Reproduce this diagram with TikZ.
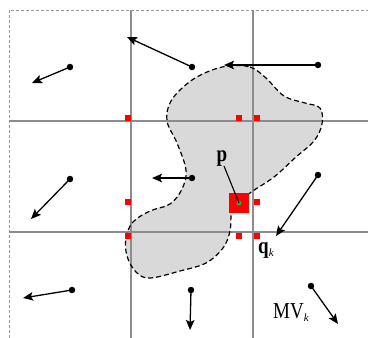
\documentclass[tikz,border=0pt]{standalone}
\usepackage{fontspec}
\setmainfont{Liberation Serif}
\usetikzlibrary{arrows.meta}
\definecolor{gridgray}{HTML}{8C8C8C}
\definecolor{blobgray}{HTML}{D9D9D9}
\definecolor{mkred}{HTML}{FF0000}
\definecolor{mkgreen}{HTML}{22AA44}
\newcommand{\tallt}[1]{\scalebox{1}[1.2]{#1}}
\tikzset{
  gridline/.style={draw=gridgray,line width=1.4pt},
  border/.style={draw=gray!80,line width=0.9pt,dash pattern=on 3pt off 2pt},
  dotnode/.style={circle,fill=black,inner sep=0pt,minimum size=6.5pt},
  mv/.style={line width=1.3pt,-{Stealth[length=10pt,width=8.5pt,inset=2pt]},shorten <=-1pt},
  smallsq/.style={rectangle,fill=mkred,inner sep=0pt,minimum size=6pt},
  lbl/.style={inner sep=0pt,font=\fontsize{19}{19}\selectfont}
}
\begin{document}
\begin{tikzpicture}[x=1pt,y=-1pt]
\useasboundingbox (0,0) rectangle (368,338);
\def\blobpath{plot[smooth cycle,tension=0.6] coordinates {
(228,66) (250,67) (266,78) (284,96) (305,103) (320,108) (322,124) (314,141)
(296,157) (274,177) (250,193) (233,208) (230,231) (223,248) (206,263) (180,271)
(150,278) (136,272) (127,256) (126,238) (133,222) (150,211) (170,204) (182,189)
(186,170) (177,143) (167,121) (171,101) (188,83) (207,72)}}
\fill[blobgray] \blobpath;
% border
\draw[border] (9,338) -- (9,10) -- (368,10);
% grid
\draw[gridline] (131,10) -- (131,338);
\draw[gridline] (253,10) -- (253,338);
\draw[gridline] (9,121) -- (368,121);
\draw[gridline] (9,232) -- (368,232);
% blob outline
\draw[line width=1.2pt,dash pattern=on 5pt off 3pt] \blobpath;
% motion vectors
\node[dotnode] (d1) at (70,67) {};   \coordinate (t1) at (32,83);
\node[dotnode] (d2) at (192,67) {};  \coordinate (t2) at (127,37);
\node[dotnode] (d3) at (318,65) {};  \coordinate (t3) at (224,65);
\node[dotnode] (d4) at (192,178) {}; \coordinate (t4) at (152,178);
\node[dotnode] (d5) at (70,179) {};  \coordinate (t5) at (31,219);
\node[dotnode] (d6) at (318,175) {}; \coordinate (t6) at (276,236);
\node[dotnode] (d7) at (72,290) {};  \coordinate (t7) at (23,298);
\node[dotnode] (d8) at (191,290) {}; \coordinate (t8) at (190,330);
\node[dotnode] (d9) at (311,286) {}; \coordinate (t9) at (338,324);
\foreach \i in {1,...,9} \draw[mv] (d\i.center) -- (t\i);
% red markers
\node[smallsq] (r1) at (128,118) {};
\node[smallsq] (r2) at (239,118) {};
\node[smallsq] (r3) at (257,118) {};
\node[smallsq] (r4) at (128,202) {};
\node[smallsq] (r5) at (257,202) {};
\node[smallsq] (r6) at (128,236) {};
\node[smallsq] (r7) at (239,236) {};
\node[smallsq] (r8) at (257,236) {};
\node[rectangle,fill=mkred,inner sep=0pt,minimum size=20pt] (big) at (239,203) {};
\node[circle,fill=mkgreen,inner sep=0pt,minimum size=5pt] (pt) at (239,203) {};
% labels
\node[lbl,anchor=base] (plab) at (222,161) {\tallt{\textbf{p}}};
\draw[line width=1.1pt] (224,166) -- (pt.center);
\node[lbl,anchor=base west] (qlab) at (258,253) {\tallt{\textbf{q}}\raisebox{-3pt}{\fontsize{11}{11}\selectfont\textit{k}}};
\node[lbl,anchor=base west] (mvlab) at (273,318) {\tallt{MV}\raisebox{-3pt}{\fontsize{11}{11}\selectfont\textit{k}}};
\end{tikzpicture}
\end{document}
